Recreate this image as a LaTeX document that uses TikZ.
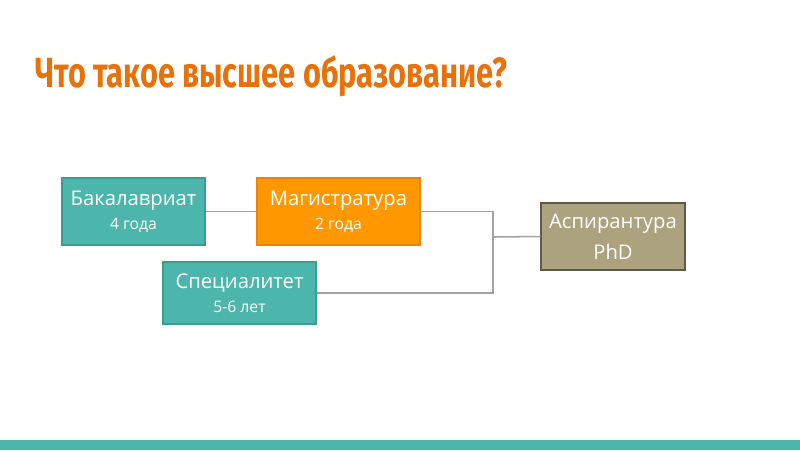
\documentclass[tikz,border=0pt]{standalone}
\usepackage{fontspec}
\setmainfont{Open Sans}
\newfontfamily\titlefont[FakeStretch=0.73]{Fira Sans}
\usetikzlibrary{positioning}

\definecolor{teal1}{HTML}{4DB6AC}
\definecolor{teal2}{HTML}{3A9E8E}
\definecolor{orange1}{HTML}{FF9800}
\definecolor{orange2}{HTML}{E8830D}
\definecolor{olive1}{HTML}{ADA27E}
\definecolor{olive2}{HTML}{5E5A4A}
\definecolor{title}{HTML}{E8710A}
\definecolor{line}{HTML}{A3A3A3}

\tikzset{
  stage/.style={draw, line width=0.8pt, text=white, align=center, inner sep=0pt, font=\fontsize{14.4}{17}\selectfont},
  link/.style={draw=line, line width=1.1pt}
}
\newcommand{\yrs}[1]{{\fontsize{11.2}{13}\selectfont #1}}

\begin{document}
\begin{tikzpicture}[x=0.025cm,y=-0.025cm]
\useasboundingbox (0,0) rectangle (800,450);
\fill[teal1] (0,440) rectangle (800,450);
\node[anchor=base west, inner sep=0pt, text=title, font=\titlefont\bfseries\fontsize{30}{34}\selectfont] (head) at (35,87) {Что такое высшее образование?};

\node[stage, fill=teal1, draw=teal2, minimum width=3.575cm, minimum height=1.675cm] (bak) at (133.5,211.5) {Бакалавриат\\\yrs{4 года}};
\node[stage, fill=orange1, draw=orange2, minimum width=4.075cm, minimum height=1.675cm] (mag) at (338.5,211.5) {Магистратура\\\yrs{2 года}};
\node[stage, fill=teal1, draw=teal2, minimum width=3.825cm, minimum height=1.55cm] (spec) at (239.5,293) {Специалитет\\\yrs{5-6 лет}};
\node[stage, fill=olive1, draw=olive2, minimum width=3.6cm, minimum height=1.675cm] (phd) at (613,236.5) {Аспирантура\\[5pt]PhD};

\coordinate (join) at (493,237);
\draw[link] (bak) -- (mag);
\draw[link] (mag.east) -| (join) |- (spec.east);
\draw[link] (join) -- (phd.west);
\end{tikzpicture}
\end{document}
